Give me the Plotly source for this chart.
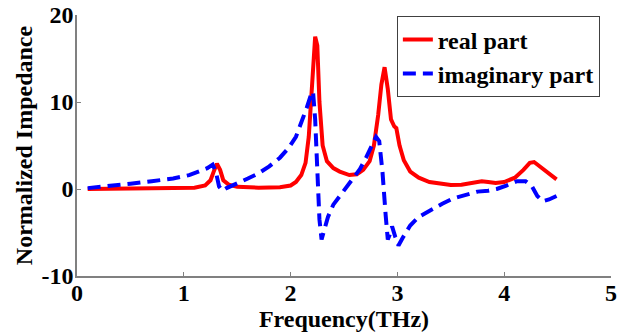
import plotly.graph_objects as go

freq_real = [0.10, 0.5, 0.9, 1.10, 1.20, 1.25, 1.28, 1.31, 1.34, 1.37, 1.42, 1.50, 1.70, 1.90,
             2.00, 2.05, 2.10, 2.14, 2.17, 2.20, 2.23, 2.25, 2.27, 2.30, 2.34, 2.40, 2.46, 2.55,
             2.62, 2.68, 2.74, 2.78, 2.82, 2.85, 2.88, 2.91, 2.94, 2.97, 2.99, 3.02, 3.06, 3.12,
             3.20, 3.30, 3.40, 3.50, 3.60, 3.70, 3.79, 3.85, 3.92, 4.00, 4.10, 4.18, 4.24, 4.28,
             4.33, 4.39, 4.44, 4.49]
real_part = [0.0, 0.02, 0.05, 0.15, 0.4, 1.0, 2.0, 2.9, 2.2, 1.0, 0.5, 0.25, 0.15, 0.2,
             0.4, 0.8, 1.6, 3.0, 6.0, 11.0, 17.5, 16.5, 10.0, 5.0, 3.2, 2.4, 2.0, 1.6,
             1.7, 2.2, 3.2, 5.0, 8.5, 12.0, 14.0, 11.5, 8.0, 7.2, 7.0, 5.0, 3.3, 2.0,
             1.3, 0.8, 0.6, 0.45, 0.5, 0.7, 0.9, 0.8, 0.7, 0.8, 1.3, 2.2, 3.0, 3.1,
             2.6, 2.0, 1.5, 1.1]

freq_imag = [0.10, 0.3, 0.5, 0.7, 0.9, 1.05, 1.15, 1.22, 1.27, 1.30, 1.33, 1.36, 1.40, 1.50,
             1.60, 1.70, 1.80, 1.90, 1.98, 2.05, 2.10, 2.15, 2.19, 2.21, 2.23, 2.25, 2.27, 2.29,
             2.31, 2.35, 2.40, 2.46, 2.52, 2.58, 2.65, 2.71, 2.76, 2.80, 2.83, 2.86, 2.89, 2.91,
             2.93, 2.95, 2.98, 3.01, 3.05, 3.12, 3.20, 3.31, 3.42, 3.52, 3.65, 3.75, 3.85, 3.93,
             4.02, 4.12, 4.20, 4.26, 4.31, 4.36, 4.42, 4.49]
imag_part = [0.1, 0.3, 0.6, 0.9, 1.2, 1.6, 2.0, 2.4, 2.8, 2.0, 0.3, -0.2, 0.1, 0.6,
             1.2, 1.8, 2.6, 3.6, 4.7, 6.0, 7.5, 9.3, 10.8, 11.2, 8.0, 2.0, -3.5, -5.8,
             -5.0, -3.2, -1.8, -0.8, 0.2, 1.1, 2.3, 3.7, 5.0, 6.0, 5.5, 2.0, -3.0, -5.8,
             -5.2, -4.3, -5.5, -6.5, -5.6, -4.2, -3.2, -2.4, -1.7, -1.1, -0.6, -0.3, -0.2, 0.0,
             0.4, 0.9, 0.9, 0.3, -0.8, -1.4, -1.2, -0.8]

x_ticks = [0, 1, 2, 3, 4, 5]
y_ticks = [-10, 0, 10, 20]

FONT = "Liberation Serif, Times New Roman, serif"

fig = go.Figure()
fig.add_trace(go.Scatter(x=freq_real, y=real_part, mode="lines", name="<b>real part</b>",
                         line=dict(color="#ff0000", width=4)))
fig.add_trace(go.Scatter(x=freq_imag, y=imag_part, mode="lines", name="<b>imaginary part</b>",
                         line=dict(color="#0000ff", width=4, dash="13px,7px")))

axis_common = dict(showgrid=False, zeroline=False, showline=True, linecolor="#808080",
                   linewidth=1.5, ticks="inside", ticklen=4, tickcolor="#808080",
                   automargin=False,
                   tickfont=dict(family=FONT, size=24, color="black"))

fig.update_xaxes(range=[0, 5], tickvals=x_ticks, ticktext=[f"<b>{t}</b>" for t in x_ticks],
                 ticklabelstandoff=-6,
                 title=dict(text="<b>Frequency(THz)</b>", font=dict(family=FONT, size=24, color="black"),
                            standoff=12),
                 **axis_common)
fig.update_yaxes(range=[-10, 20], tickvals=y_ticks, ticktext=[f"<b>{t}</b>" for t in y_ticks],
                 ticklabelstandoff=-3,
                 title=dict(text="<b>Normalized Impedance</b>", font=dict(family=FONT, size=24, color="black"),
                            standoff=2),
                 **axis_common)

fig.update_layout(
    width=622, height=332,
    margin=dict(l=77, r=11, t=15, b=56),
    plot_bgcolor="white", paper_bgcolor="white",
    font=dict(family=FONT, color="black"),
    legend=dict(x=0.599, y=0.995, xanchor="left", yanchor="top",
                bordercolor="#404040", borderwidth=1, bgcolor="white",
                font=dict(family=FONT, size=24, color="black"),
                tracegroupgap=0, itemwidth=30),
    showlegend=True,
)

fig.write_html("out.html")
